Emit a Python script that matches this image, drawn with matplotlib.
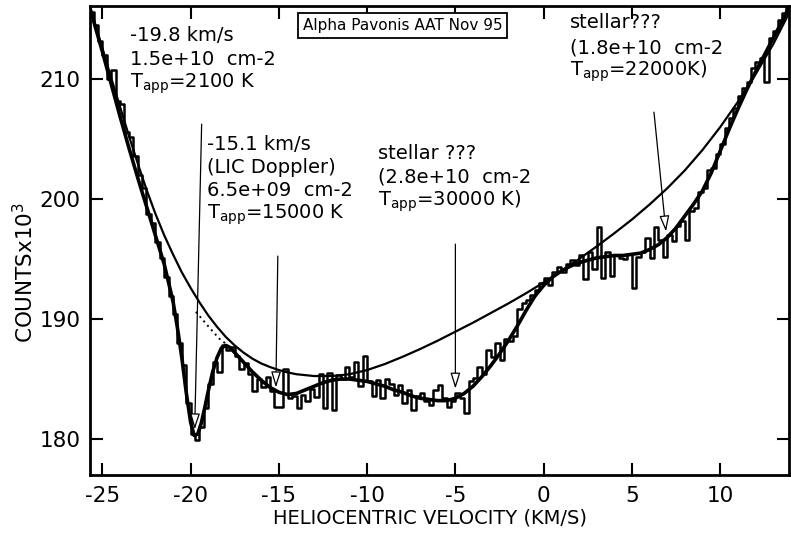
import numpy as np
import matplotlib
matplotlib.use("Agg")
import matplotlib.pyplot as plt

plt.rcParams['font.family'] = ['DejaVu Sans']
plt.rcParams['axes.unicode_minus'] = False

# ---------------- data ----------------
bin_start = -25.625   # centre of first velocity bin (km/s)
bin_width = 0.25
counts = [
    215.6, 214.5, 213.2,
    212.0, 210.0, 210.8, 208.2,
    207.9, 205.6, 205.2, 203.6,
    202.0, 200.9, 198.8, 198.0,
    196.4, 195.1, 193.5, 191.9,
    190.4, 188.0, 186.2, 183.0,
    180.4, 179.9, 181.0, 182.6,
    184.6, 186.4, 185.6, 187.8,
    187.4, 187.7, 186.9, 185.8,
    186.3, 185.4, 184.0, 185.0,
    184.3, 185.2, 184.0, 182.7,
    182.7, 185.8, 183.4, 183.6,
    182.6, 183.7, 183.2, 184.2,
    183.5, 185.4, 182.6, 185.5,
    182.4, 185.3, 185.0, 186.0,
    185.2, 186.4, 184.4, 186.9,
    184.8, 183.6, 184.9, 183.4,
    185.0, 184.6, 183.7, 184.5,
    183.0, 184.1, 182.4, 183.6,
    183.8, 183.2, 182.8, 184.1,
    184.5, 183.4, 182.7, 183.2,
    183.8, 183.4, 182.2, 184.8,
    185.1, 186.0, 185.4, 187.4,
    186.8, 188.0, 186.6, 188.3,
    188.2, 188.6, 190.8, 191.3,
    191.6, 192.0, 192.4, 193.0,
    193.4, 192.8, 193.9, 194.3,
    193.9, 194.6, 194.9, 194.5,
    195.3, 193.3, 195.6, 194.2,
    197.7, 193.4, 195.6, 193.6,
    195.3, 195.1, 195.0, 195.4,
    192.6, 195.2, 195.6, 196.8,
    195.1, 197.7, 196.6, 195.2,
    197.0, 196.5, 197.8, 198.2,
    196.6, 199.0, 199.3, 200.6,
    200.9, 202.4, 202.6, 203.8,
    204.6, 205.9, 206.8, 207.6,
    208.6, 209.3, 209.8, 210.9,
    211.4, 211.8, 209.8, 213.4,
    214.0, 214.9, 215.5, 216.2,
]

fit_vel = [-25.7, -25.0, -24.5, -24.0, -23.5, -23.0, -22.5, -22.0, -21.5, -21.0,
           -20.75, -20.5, -20.25, -20.0, -19.8, -19.6, -19.4, -19.2, -19.0, -18.75,
           -18.5, -18.25, -18.0, -17.75, -17.5, -17.0, -16.5, -16.0, -15.5, -15.0,
           -14.5, -14.0, -13.5, -13.0, -12.5, -12.0, -11.5, -11.0, -10.5, -10.0,
           -9.5, -9.0, -8.5, -8.0, -7.5, -7.0, -6.5, -6.0, -5.5, -5.0,
           -4.5, -4.0, -3.5, -3.0, -2.5, -2.0, -1.5, -1.0, -0.5,
           0.0, 0.5, 1.0, 1.5, 2.0, 2.5, 3.0, 3.5, 4.0, 4.5, 5.0,
           5.5, 6.0, 6.5, 7.0, 7.5, 8.0, 8.5, 9.0, 9.5, 10.0,
           10.5, 11.0, 11.5, 12.0, 12.5, 13.0, 13.5, 13.9]
fit_counts = [215.9, 212.3, 209.6, 206.9, 204.3, 201.8, 199.4, 197.0, 194.6, 191.5,
              189.3, 186.8, 183.9, 181.4, 180.3, 180.4, 181.3, 182.6, 184.0, 185.6,
              186.8, 187.6, 187.8, 187.6, 187.2, 186.4, 185.6, 184.9, 184.3, 183.9,
              183.7, 183.8, 184.1, 184.4, 184.7, 184.9, 185.0, 185.0, 184.9, 184.8,
              184.6, 184.4, 184.1, 183.9, 183.6, 183.4, 183.3, 183.2, 183.2, 183.4,
              183.8, 184.4, 185.2, 186.1, 187.1, 188.2, 189.4, 190.7, 191.9,
              192.8, 193.5, 194.0, 194.4, 194.7, 194.9, 195.1, 195.2, 195.3, 195.3, 195.4,
              195.5, 195.8, 196.2, 196.8, 197.6, 198.6, 199.6, 200.7, 202.2, 204.0,
              205.8, 207.5, 209.1, 210.6, 212.0, 213.4, 214.8, 216.0]

cont_vel = [-25.7, -25.5, -25.0, -24.5, -24.0, -23.5, -23.0, -22.5, -22.0, -21.5,
            -21.0, -20.5, -20.0, -19.5, -19.0, -18.5, -18.0, -17.5, -17.0, -16.5,
            -16.0, -15.5, -15.0, -14.5, -14.0, -13.0, -12.0, -11.0, -10.0, -9.0,
            -8.0, -7.0, -6.0, -5.0, -4.0, -3.0, -2.0, -1.0, 0.0, 1.0,
            2.0, 3.0, 4.0, 5.0, 6.0, 7.0, 8.0, 9.0, 10.0, 11.0,
            12.0, 13.0, 13.9]
cont_counts = [216.0, 215.0, 212.6, 210.1, 207.7, 205.3, 203.0, 200.8, 198.8, 197.0,
               195.4, 193.9, 192.6, 191.4, 190.3, 189.35, 188.5, 187.8, 187.2, 186.7,
               186.3, 186.0, 185.75, 185.55, 185.4, 185.25, 185.25, 185.4, 185.75, 186.25,
               186.85, 187.5, 188.2, 188.95, 189.7, 190.5, 191.3, 192.15, 193.05, 194.0,
               195.0, 196.05, 197.15, 198.3, 199.55, 200.9, 202.4, 204.1, 206.0, 208.1,
               210.4, 212.9, 215.5]

dot_vel = [-19.7, -19.0, -18.4, -17.8]
dot_counts = [190.6, 189.4, 188.4, 187.7]

xticks = [-25, -20, -15, -10, -5, 0, 5, 10]
yticks = [180, 190, 200, 210]

# ---------------- figure ----------------
W, H = 791, 535
fig = plt.figure(figsize=(W / 100, H / 100), dpi=100)
ax = fig.add_axes([90 / W, 60 / H, 699 / W, 469 / H])

vel = bin_start + bin_width * np.arange(len(counts))
ax.step(vel, counts, where='mid', color='black', lw=1.8)
ax.plot(fit_vel, fit_counts, color='black', lw=2.6, solid_capstyle='round')
ax.plot(cont_vel, cont_counts, color='black', lw=1.6)
ax.plot(dot_vel, dot_counts, color='black', lw=1.4, ls=(0, (1, 2)))

ax.set_xlim(-25.7, 13.9)
ax.set_ylim(177.0, 216.1)
ax.set_xticks(xticks)
ax.set_yticks(yticks)
ax.tick_params(direction='in', length=9, width=1.5, labelsize=15.5,
               top=True, right=True)
ax.tick_params(axis='x', pad=8)
ax.tick_params(axis='y', pad=7)
for s in ax.spines.values():
    s.set_linewidth(2.0)

def fx(px):
    return px / W

def fy(py):
    return 1 - py / H

fig.text(fx(430), fy(523), 'HELIOCENTRIC VELOCITY (KM/S)', ha='center',
         va='baseline', fontsize=14)
fig.text(fx(25), fy(272), r'COUNTSx10$^{3}$', ha='center', va='center',
         rotation=90, fontsize=15.5)

fig.text(fx(402.5), fy(25.5), 'Alpha Pavonis AAT Nov 95', ha='center', va='center',
         fontsize=11,
         bbox=dict(boxstyle='square,pad=0.3', fc='white', ec='black', lw=1.3))

ts = 14
def block(x, ys, lines):
    for yy, t in zip(ys, lines):
        fig.text(fx(x), fy(yy), t, ha='left', va='baseline', fontsize=ts)

block(130, [41, 65, 88], ['-19.8 km/s', '1.5e+10  cm-2', r'T$_{\mathregular{app}}$=2100 K'])
block(207, [150, 173, 196, 219], ['-15.1 km/s', '(LIC Doppler)', '6.5e+09  cm-2',
                                  r'T$_{\mathregular{app}}$=15000 K'])
block(378, [159, 182, 206], ['stellar ???', '(2.8e+10  cm-2',
                             r'T$_{\mathregular{app}}$=30000 K)'])
block(570, [28, 53, 76], ['stellar???', '(1.8e+10  cm-2',
                          r'T$_{\mathregular{app}}$=22000K)'])

arrow_style = dict(arrowstyle='-|>,head_length=0.8,head_width=0.25', lw=0.9,
                   facecolor='white', edgecolor='black', mutation_scale=12,
                   shrinkA=0, shrinkB=0)
ax.annotate('', xy=(-19.77, 180.8), xytext=(-19.375, 206.25), arrowprops=arrow_style)
ax.annotate('', xy=(-15.17, 184.3), xytext=(-15.06, 195.25), arrowprops=arrow_style)
ax.annotate('', xy=(-5.0, 184.2), xytext=(-5.0, 196.25), arrowprops=arrow_style)
ax.annotate('', xy=(6.93, 197.3), xytext=(6.25, 207.25), arrowprops=arrow_style)

fig.savefig('out.png', dpi=100)
